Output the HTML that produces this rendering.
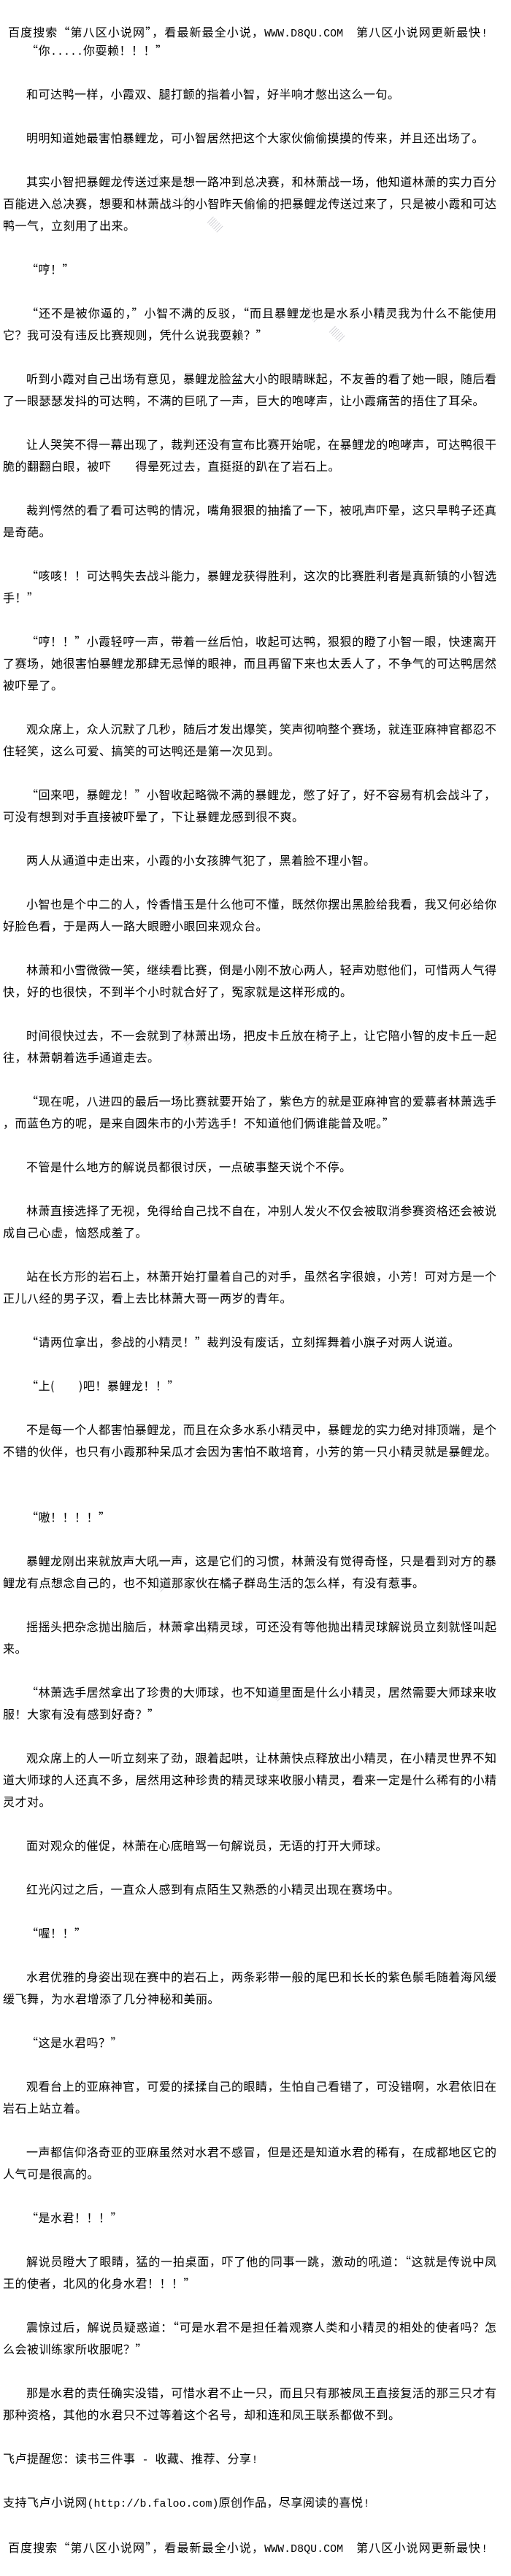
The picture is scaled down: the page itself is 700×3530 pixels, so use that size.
<!DOCTYPE html>
<html lang="zh-CN">
<head>
<meta charset="utf-8">
<title>第八区小说网</title>
<style>
html,body{margin:0;padding:0;background:#fff}
body{width:700px;height:3530px;position:relative;overflow:hidden;color:#000;font:16px/30px "WenQuanYi Zen Hei","Noto Sans CJK SC",sans-serif;letter-spacing:.5px}
#t{position:absolute;left:4px;top:53px;width:676px}
section{margin:0 0 30px}
div.l{white-space:nowrap;height:30px}
div.j{white-space:normal;text-align:justify;text-align-last:justify;text-justify:inter-character;letter-spacing:0}
.i{padding-left:32px}
.h{position:absolute;left:11px;top:28px;width:680px;white-space:nowrap;letter-spacing:1.1px}
.f{top:3475px}
.u{font:15px/30px "Liberation Mono",monospace;letter-spacing:0}
.m{position:absolute;width:20px;height:12px;transform:rotate(45deg);opacity:.3;background:repeating-linear-gradient(90deg,#667 0 1px,transparent 1px 3px)}
</style>
</head>
<body>
<div class="h">百度搜索“第八区小说网”，看最新最全小说，<span class="u">WWW.D8QU.COM&nbsp;&nbsp;</span>第八区小说网更新最快<span class="u">!</span></div>
<div id="t">
<section><div class="l i">“你<span class="u">.....</span>你耍赖！！！”</div></section>
<section><div class="l i">和可达鸭一样，小霞双、腿打颤的指着小智，好半响才憋出这么一句。</div></section>
<section><div class="l i">明明知道她最害怕暴鲤龙，可小智居然把这个大家伙偷偷摸摸的传来，并且还出场了。</div></section>
<section><div class="l j i">其实小智把暴鲤龙传送过来是想一路冲到总决赛，和林萧战一场，他知道林萧的实力百分</div><div class="l j">百能进入总决赛，想要和林萧战斗的小智昨天偷偷的把暴鲤龙传送过来了，只是被小霞和可达</div><div class="l">鸭一气，立刻用了出来。</div></section>
<section><div class="l i">“哼！”</div></section>
<section><div class="l j i">“还不是被你逼的，”小智不满的反驳，“而且暴鲤龙也是水系小精灵我为什么不能使用</div><div class="l">它？我可没有违反比赛规则，凭什么说我耍赖？”</div></section>
<section><div class="l j i">听到小霞对自己出场有意见，暴鲤龙脸盆大小的眼睛眯起，不友善的看了她一眼，随后看</div><div class="l">了一眼瑟瑟发抖的可达鸭，不满的巨吼了一声，巨大的咆哮声，让小霞痛苦的捂住了耳朵。</div></section>
<section><div class="l j i">让人哭笑不得一幕出现了，裁判还没有宣布比赛开始呢，在暴鲤龙的咆哮声，可达鸭很干</div><div class="l">脆的翻翻白眼，被吓　　得晕死过去，直挺挺的趴在了岩石上。</div></section>
<section><div class="l j i">裁判愕然的看了看可达鸭的情况，嘴角狠狠的抽搐了一下，被吼声吓晕，这只旱鸭子还真</div><div class="l">是奇葩。</div></section>
<section><div class="l j i">“咳咳！！可达鸭失去战斗能力，暴鲤龙获得胜利，这次的比赛胜利者是真新镇的小智选</div><div class="l">手！”</div></section>
<section><div class="l j i">“哼！！”小霞轻哼一声，带着一丝后怕，收起可达鸭，狠狠的瞪了小智一眼，快速离开</div><div class="l j">了赛场，她很害怕暴鲤龙那肆无忌惮的眼神，而且再留下来也太丢人了，不争气的可达鸭居然</div><div class="l">被吓晕了。</div></section>
<section><div class="l j i">观众席上，众人沉默了几秒，随后才发出爆笑，笑声彻响整个赛场，就连亚麻神官都忍不</div><div class="l">住轻笑，这么可爱、搞笑的可达鸭还是第一次见到。</div></section>
<section><div class="l i">“回来吧，暴鲤龙！”小智收起略微不满的暴鲤龙，憋了好了，好不容易有机会战斗了，</div><div class="l">可没有想到对手直接被吓晕了，下让暴鲤龙感到很不爽。</div></section>
<section><div class="l i">两人从通道中走出来，小霞的小女孩脾气犯了，黑着脸不理小智。</div></section>
<section><div class="l j i">小智也是个中二的人，怜香惜玉是什么他可不懂，既然你摆出黑脸给我看，我又何必给你</div><div class="l">好脸色看，于是两人一路大眼瞪小眼回来观众台。</div></section>
<section><div class="l j i">林萧和小雪微微一笑，继续看比赛，倒是小刚不放心两人，轻声劝慰他们，可惜两人气得</div><div class="l">快，好的也很快，不到半个小时就合好了，冤家就是这样形成的。</div></section>
<section><div class="l j i">时间很快过去，不一会就到了林萧出场，把皮卡丘放在椅子上，让它陪小智的皮卡丘一起</div><div class="l">往，林萧朝着选手通道走去。</div></section>
<section><div class="l j i">“现在呢，八进四的最后一场比赛就要开始了，紫色方的就是亚麻神官的爱慕者林萧选手</div><div class="l">，而蓝色方的呢，是来自圆朱市的小芳选手！不知道他们俩谁能普及呢。”</div></section>
<section><div class="l i">不管是什么地方的解说员都很讨厌，一点破事整天说个不停。</div></section>
<section><div class="l j i">林萧直接选择了无视，免得给自己找不自在，冲别人发火不仅会被取消参赛资格还会被说</div><div class="l">成自己心虚，恼怒成羞了。</div></section>
<section><div class="l j i">站在长方形的岩石上，林萧开始打量着自己的对手，虽然名字很娘，小芳！可对方是一个</div><div class="l">正儿八经的男子汉，看上去比林萧大哥一两岁的青年。</div></section>
<section><div class="l i">“请两位拿出，参战的小精灵！”裁判没有废话，立刻挥舞着小旗子对两人说道。</div></section>
<section><div class="l i">“上(　　)吧！暴鲤龙！！”</div></section>
<section style="margin-bottom:60px"><div class="l j i">不是每一个人都害怕暴鲤龙，而且在众多水系小精灵中，暴鲤龙的实力绝对排顶端，是个</div><div class="l">不错的伙伴，也只有小霞那种呆瓜才会因为害怕不敢培育，小芳的第一只小精灵就是暴鲤龙。</div></section>
<section><div class="l i">“嗷！！！！”</div></section>
<section><div class="l j i">暴鲤龙刚出来就放声大吼一声，这是它们的习惯，林萧没有觉得奇怪，只是看到对方的暴</div><div class="l">鲤龙有点想念自己的，也不知道那家伙在橘子群岛生活的怎么样，有没有惹事。</div></section>
<section><div class="l j i">摇摇头把杂念抛出脑后，林萧拿出精灵球，可还没有等他抛出精灵球解说员立刻就怪叫起</div><div class="l">来。</div></section>
<section><div class="l j i">“林萧选手居然拿出了珍贵的大师球，也不知道里面是什么小精灵，居然需要大师球来收</div><div class="l">服！大家有没有感到好奇？”</div></section>
<section><div class="l j i">观众席上的人一听立刻来了劲，跟着起哄，让林萧快点释放出小精灵，在小精灵世界不知</div><div class="l j">道大师球的人还真不多，居然用这种珍贵的精灵球来收服小精灵，看来一定是什么稀有的小精</div><div class="l">灵才对。</div></section>
<section><div class="l i">面对观众的催促，林萧在心底暗骂一句解说员，无语的打开大师球。</div></section>
<section><div class="l i">红光闪过之后，一直众人感到有点陌生又熟悉的小精灵出现在赛场中。</div></section>
<section><div class="l i">“喔！！”</div></section>
<section><div class="l j i">水君优雅的身姿出现在赛中的岩石上，两条彩带一般的尾巴和长长的紫色鬃毛随着海风缓</div><div class="l">缓飞舞，为水君增添了几分神秘和美丽。</div></section>
<section><div class="l i">“这是水君吗？”</div></section>
<section><div class="l j i">观看台上的亚麻神官，可爱的揉揉自己的眼睛，生怕自己看错了，可没错啊，水君依旧在</div><div class="l">岩石上站立着。</div></section>
<section><div class="l j i">一声都信仰洛奇亚的亚麻虽然对水君不感冒，但是还是知道水君的稀有，在成都地区它的</div><div class="l">人气可是很高的。</div></section>
<section><div class="l i">“是水君！！！”</div></section>
<section><div class="l j i">解说员瞪大了眼睛，猛的一拍桌面，吓了他的同事一跳，激动的吼道：“这就是传说中凤</div><div class="l">王的使者，北风的化身水君！！！”</div></section>
<section><div class="l j i">震惊过后，解说员疑惑道：“可是水君不是担任着观察人类和小精灵的相处的使者吗？怎</div><div class="l">么会被训练家所收服呢？”</div></section>
<section><div class="l j i">那是水君的责任确实没错，可惜水君不止一只，而且只有那被凤王直接复活的那三只才有</div><div class="l">那种资格，其他的水君只不过等着这个名号，却和连和凤王联系都做不到。</div></section>
<section><div class="l">飞卢提醒您：读书三件事<span class="u"> - </span>收藏、推荐、分享<span class="u">!</span></div></section>
<section><div class="l">支持飞卢小说网<span class="u">(http://b.faloo.com)</span>原创作品，尽享阅读的喜悦<span class="u">!</span></div></section>
</div>
<div class="h f">百度搜索“第八区小说网”，看最新最全小说，<span class="u">WWW.D8QU.COM&nbsp;&nbsp;</span>第八区小说网更新最快<span class="u">!</span></div>
<i class="m" style="left:210px;top:243px"></i>
<i class="m" style="left:248px;top:273px"></i>
<i class="m" style="left:285px;top:302px"></i>
<i class="m" style="left:418px;top:425px"></i>
<i class="m" style="left:452px;top:452px"></i>
<i class="m" style="left:245px;top:1416px"></i>
<i class="m" style="left:208px;top:2165px"></i>
<i class="m" style="left:270px;top:2225px"></i>
<i class="m" style="left:368px;top:2315px"></i>
</body>
</html>
